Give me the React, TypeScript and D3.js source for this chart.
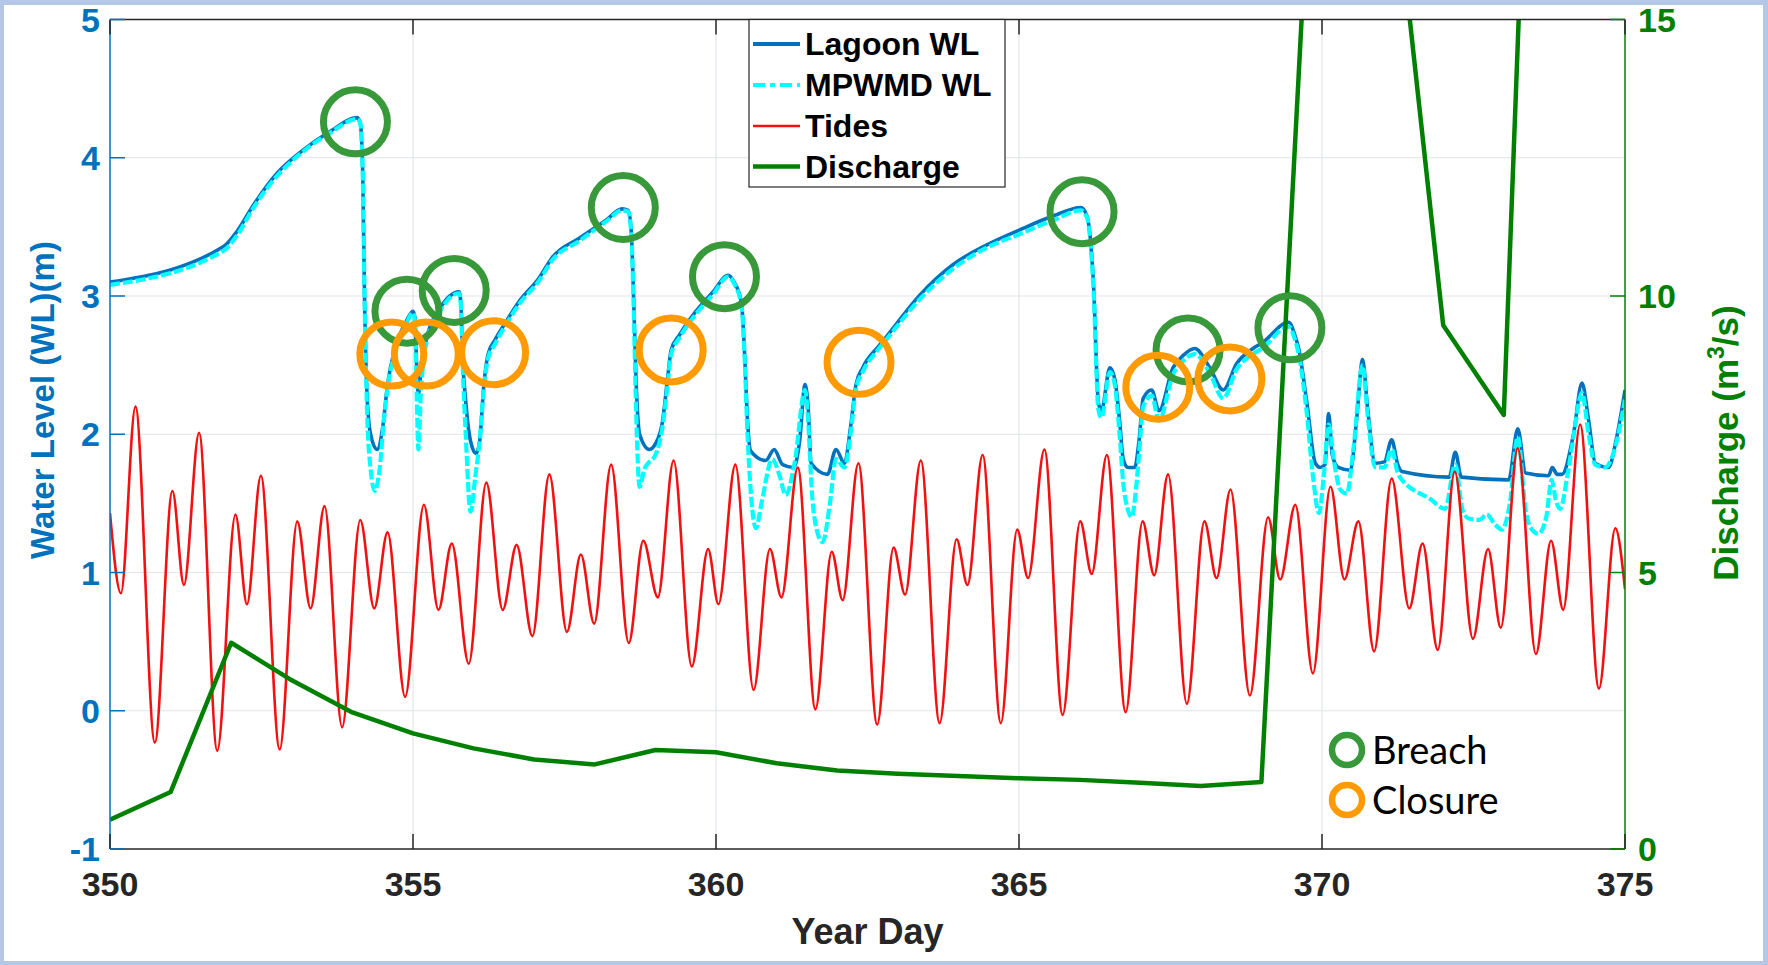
import React from 'react';
import * as d3 from 'd3';

// ---- figure geometry ----
const W = 1768;
const H = 965;
const PLOT = { left: 110, right: 1625, top: 19.5, bottom: 849 };

// ---- axis ticks ----
const dayTicks = [350, 355, 360, 365, 370, 375];
const levelTicks = [-1, 0, 1, 2, 3, 4, 5];
const flowTicks = [0, 5, 10, 15];

// ---- Lagoon water level (m) ----
const lagoonDays = [
  350.0, 351.88, 352.1, 352.37, 352.76, 353.2, 353.63, 354.08, 354.13, 354.17,
  354.2, 354.24, 354.3, 354.41, 354.5, 354.58, 354.71, 354.88, 355.0, 355.03,
  355.06, 355.09, 355.14, 355.24, 355.43, 355.76, 355.79, 355.82, 355.87, 355.95,
  356.04, 356.1, 356.17, 356.24, 356.35, 356.53, 356.75, 357.08, 357.3, 357.75,
  358.19, 358.45, 358.55, 358.6, 358.64, 358.68, 358.74, 358.9, 359.0, 359.12,
  359.2, 359.26, 359.4, 359.67, 359.95, 360.2, 360.3, 360.42, 360.47, 360.52,
  360.57, 360.82, 360.96, 361.1, 361.28, 361.38, 361.47, 361.52, 361.57, 361.84,
  361.98, 362.12, 362.22, 362.31, 362.42, 362.69, 362.82, 363.37, 363.92, 364.47,
  365.02, 365.57, 366.02, 366.12, 366.17, 366.23, 366.31, 366.36, 366.5, 366.58,
  366.66, 366.72, 366.8, 366.91, 366.98, 367.05, 367.19, 367.31, 367.54, 367.71,
  367.9, 368.15, 368.37, 368.59, 368.86, 369.01, 369.45, 369.55, 369.62, 369.75,
  369.89, 369.97, 370.05, 370.11, 370.17, 370.27, 370.47, 370.57, 370.67, 370.75,
  370.88, 371.03, 371.15, 371.25, 371.32, 372.1, 372.2, 372.3, 373.08, 373.23,
  373.36, 373.74, 373.8, 373.88, 373.96, 374.15, 374.29, 374.4, 374.51, 374.73,
  374.85, 375.0,
];
const lagoonLevels = [
  3.1, 3.36, 3.47, 3.66, 3.89, 4.06, 4.19, 4.29, 4.25, 3.9,
  3.0, 2.3, 2.0, 1.89, 2.05, 2.36, 2.63, 2.81, 2.89, 2.85,
  2.5, 2.29, 2.5, 2.72, 2.9, 3.03, 2.95, 2.55, 2.24, 1.95,
  1.86, 1.95, 2.36, 2.58, 2.68, 2.81, 2.96, 3.13, 3.28, 3.42,
  3.55, 3.63, 3.62, 3.48, 3.0, 2.4, 2.0, 1.89, 1.93, 2.1,
  2.4, 2.61, 2.72, 2.89, 3.03, 3.15, 3.1, 2.95, 2.6, 2.1,
  1.88, 1.81, 1.89, 1.78, 1.76, 1.95, 2.36, 2.2, 1.79, 1.71,
  1.89, 1.79, 2.05, 2.36, 2.48, 2.64, 2.71, 3.01, 3.23, 3.37,
  3.48, 3.58, 3.64, 3.58, 3.45, 3.08, 2.23, 2.17, 2.48, 2.4,
  2.1, 1.82, 1.76, 1.76, 1.95, 2.26, 2.32, 2.17, 2.48, 2.57,
  2.62, 2.48, 2.32, 2.51, 2.62, 2.66, 2.81, 2.72, 2.61, 2.23,
  1.79, 1.76, 1.78, 2.15, 1.85, 1.76, 1.74, 2.1, 2.54, 2.2,
  1.79, 1.8, 1.96, 1.78, 1.73, 1.69, 1.87, 1.69, 1.67, 2.04,
  1.72, 1.7, 1.76, 1.71, 1.71, 2.0, 2.37, 2.1, 1.79, 1.76,
  1.95, 2.32,
];

// ---- MPWMD water level (m) ----
const mpwmdDays = [
  350.0, 351.88, 352.1, 352.37, 352.76, 353.2, 353.63, 354.08, 354.13, 354.17,
  354.2, 354.24, 354.3, 354.37, 354.45, 354.52, 354.58, 354.71, 354.88, 355.0,
  355.03, 355.06, 355.09, 355.13, 355.24, 355.43, 355.76, 355.79, 355.82, 355.87,
  355.95, 356.03, 356.1, 356.17, 356.24, 356.35, 356.53, 356.75, 357.08, 357.3,
  357.75, 358.19, 358.45, 358.55, 358.6, 358.64, 358.68, 358.74, 358.82, 358.9,
  359.0, 359.12, 359.2, 359.26, 359.4, 359.67, 359.95, 360.2, 360.3, 360.42,
  360.47, 360.52, 360.58, 360.66, 360.75, 360.93, 361.05, 361.15, 361.3, 361.47,
  361.52, 361.58, 361.68, 361.76, 361.88, 361.98, 362.12, 362.22, 362.31, 362.42,
  362.69, 362.82, 363.37, 363.92, 364.47, 365.02, 365.57, 366.02, 366.12, 366.17,
  366.23, 366.31, 366.36, 366.5, 366.58, 366.66, 366.72, 366.8, 366.86, 366.93,
  366.98, 367.05, 367.19, 367.31, 367.54, 367.71, 367.9, 368.15, 368.37, 368.59,
  368.86, 369.01, 369.45, 369.55, 369.62, 369.75, 369.85, 369.95, 370.03, 370.11,
  370.2, 370.3, 370.41, 370.52, 370.67, 370.75, 370.88, 371.03, 371.15, 371.25,
  371.32, 371.5, 371.76, 372.03, 372.2, 372.32, 372.42, 372.6, 372.72, 372.85,
  372.97, 373.1, 373.23, 373.36, 373.45, 373.57, 373.7, 373.79, 373.86, 373.93,
  374.05, 374.15, 374.29, 374.4, 374.51, 374.67, 374.8, 375.0,
];
const mpwmdLevels = [
  3.08, 3.33, 3.44, 3.64, 3.87, 4.05, 4.18, 4.28, 4.25, 3.9,
  3.0, 2.2, 1.75, 1.59, 1.75, 2.1, 2.33, 2.6, 2.79, 2.88,
  2.82, 2.3, 1.89, 2.3, 2.7, 2.88, 3.02, 2.93, 2.5, 2.0,
  1.44, 1.7, 1.95, 2.33, 2.55, 2.65, 2.79, 2.94, 3.11, 3.26,
  3.4, 3.54, 3.62, 3.61, 3.46, 2.95, 2.2, 1.62, 1.75, 1.8,
  1.85, 2.06, 2.35, 2.58, 2.7, 2.87, 3.01, 3.14, 3.09, 2.93,
  2.58, 2.0, 1.55, 1.32, 1.5, 1.82, 1.7, 1.56, 1.8, 2.32,
  2.1, 1.6, 1.28, 1.22, 1.5, 1.82, 1.76, 2.0, 2.33, 2.45,
  2.62, 2.69, 2.98, 3.2, 3.35, 3.45, 3.55, 3.62, 3.57, 3.43,
  3.05, 2.18, 2.12, 2.45, 2.36, 2.0, 1.65, 1.45, 1.4, 1.6,
  1.85, 2.2, 2.28, 2.1, 2.43, 2.53, 2.58, 2.44, 2.26, 2.47,
  2.58, 2.62, 2.78, 2.69, 2.57, 2.15, 1.7, 1.43, 1.7, 2.07,
  1.8, 1.6, 1.57, 1.9, 2.5, 2.15, 1.76, 1.76, 1.89, 1.72,
  1.67, 1.6, 1.54, 1.46, 1.78, 1.45, 1.39, 1.38, 1.42, 1.35,
  1.31, 1.5, 1.98, 1.45, 1.32, 1.28, 1.4, 1.67, 1.52, 1.46,
  1.7, 1.98, 2.3, 2.0, 1.78, 1.76, 1.85, 2.25,
];

// ---- Tide highs and lows (m) ----
const tideDays = [
  350.0, 350.18, 350.42, 350.74, 351.03, 351.22, 351.47, 351.77, 352.07, 352.26,
  352.49, 352.8, 353.09, 353.31, 353.54, 353.83, 354.13, 354.36, 354.58, 354.87,
  355.18, 355.42, 355.64, 355.92, 356.21, 356.48, 356.71, 356.97, 357.25, 357.54,
  357.77, 357.99, 358.27, 358.56, 358.8, 359.04, 359.3, 359.6, 359.87, 360.04,
  360.32, 360.62, 360.89, 361.08, 361.35, 361.64, 361.91, 362.09, 362.35, 362.66,
  362.93, 363.12, 363.38, 363.69, 363.97, 364.15, 364.4, 364.7, 364.97, 365.15,
  365.42, 365.72, 366.01, 366.2, 366.45, 366.76, 367.04, 367.23, 367.46, 367.77,
  368.06, 368.26, 368.49, 368.81, 369.11, 369.31, 369.56, 369.85, 370.14, 370.37,
  370.6, 370.86, 371.15, 371.44, 371.66, 371.91, 372.19, 372.49, 372.74, 372.95,
  373.23, 373.53, 373.78, 373.98, 374.26, 374.57, 374.84, 375.0,
];
const tideLevels = [
  1.43, 0.85, 2.2, -0.23, 1.59, 0.91, 2.01, -0.29, 1.42, 0.77,
  1.7, -0.28, 1.37, 0.74, 1.48, -0.12, 1.38, 0.74, 1.29, 0.1,
  1.49, 0.73, 1.21, 0.34, 1.65, 0.73, 1.2, 0.54, 1.71, 0.57,
  1.13, 0.63, 1.78, 0.49, 1.23, 0.82, 1.81, 0.32, 1.17, 0.77,
  1.78, 0.15, 1.17, 0.82, 1.76, 0.01, 1.15, 0.8, 1.79, -0.1,
  1.18, 0.84, 1.81, -0.09, 1.24, 0.91, 1.85, -0.09, 1.31, 0.96,
  1.89, -0.03, 1.37, 0.99, 1.85, -0.01, 1.37, 0.98, 1.71, 0.05,
  1.37, 0.96, 1.6, 0.11, 1.4, 0.95, 1.49, 0.27, 1.62, 0.95,
  1.37, 0.43, 1.68, 0.74, 1.21, 0.44, 1.73, 0.52, 1.17, 0.6,
  1.9, 0.41, 1.23, 0.73, 2.07, 0.16, 1.32, 0.88,
];

// ---- Daily river discharge (m^3/s) ----
const dischargeDays = [
  350, 351, 352, 353, 354, 355, 356, 357, 358, 359, 360, 361, 362,
  363, 364, 365, 366, 367, 368, 369, 370, 371, 372, 373, 374, 375,
];
const dischargeRates = [
  0.53, 1.03, 3.73, 3.05, 2.47, 2.09, 1.82, 1.62, 1.53, 1.79, 1.75, 1.55, 1.42,
  1.36, 1.32, 1.28, 1.25, 1.2, 1.14, 1.21, 22.0, 19.5, 9.47, 7.85, 37.0, 30.0,
];

// ---- Inlet events ----
const breachDays = [354.05, 354.9, 355.68, 358.47, 360.14, 366.04, 367.79, 369.47];
const breachLevels = [4.26, 2.89, 3.04, 3.64, 3.14, 3.61, 2.61, 2.77];
const closureDays = [354.65, 355.22, 356.33, 359.26, 362.36, 367.29, 368.48];
const closureLevels = [2.58, 2.58, 2.59, 2.61, 2.52, 2.34, 2.4];

// ---- series legend ----
const legendLabels = ['Lagoon WL', 'MPWMD WL', 'Tides', 'Discharge'];

const COLORS = {
  lagoon: '#0072bd',
  mpwmd: '#00ffff',
  tide: '#f21010',
  flow: '#008000',
  breach: '#38993a',
  closure: '#ff9a00',
  axis: '#262626',
  grid: '#e1e4e9',
  frame: '#b4c7e7',
};

const FONT = '"Liberation Sans", Arial, Helvetica, sans-serif';

export default function App() {
  const x = d3.scaleLinear().domain([350, 375]).range([PLOT.left, PLOT.right]);
  const yL = d3.scaleLinear().domain([-1, 5]).range([PLOT.bottom, PLOT.top]);
  const yR = d3.scaleLinear().domain([0, 15]).range([PLOT.bottom, PLOT.top]);

  const smooth = (xs: number[], ys: number[], ys2: d3.ScaleLinear<number, number>) =>
    d3
      .line<number>()
      .x((_, i) => x(xs[i]))
      .y((v) => ys2(v))
      .curve(d3.curveMonotoneX)(ys) as string;

  const lagoonPath = smooth(lagoonDays, lagoonLevels, yL);
  const mpwmdPath = smooth(mpwmdDays, mpwmdLevels, yL);
  const tidePath = smooth(tideDays, tideLevels, yL);
  const flowPath = d3
    .line<number>()
    .x((_, i) => x(dischargeDays[i]))
    .y((v) => yR(v))(dischargeRates) as string;

  const tickLen = 15;
  const legendBox = { x0: 749, x1: 1005, y0: PLOT.top, y1: 187 };
  const legendRows = [55, 96, 137, 177.5];
  const legendStyles = [
    { stroke: COLORS.lagoon, width: 4, dash: undefined as string | undefined },
    { stroke: COLORS.mpwmd, width: 4, dash: '12,5,5,5' },
    { stroke: COLORS.tide, width: 2.6, dash: undefined },
    { stroke: COLORS.flow, width: 4.5, dash: undefined },
  ];

  return (
    <svg
      width={W}
      height={H}
      viewBox={`0 0 ${W} ${H}`}
      style={{ position: 'absolute', left: 0, top: 0, display: 'block' }}
      fontFamily={FONT}
    >
      <defs>
        <clipPath id="plot-clip">
          <rect
            x={PLOT.left}
            y={PLOT.top}
            width={PLOT.right - PLOT.left}
            height={PLOT.bottom - PLOT.top}
          />
        </clipPath>
      </defs>

      {/* frame */}
      <rect x={0} y={0} width={W} height={H} fill={COLORS.frame} />
      <rect x={4} y={5} width={W - 9} height={H - 9} fill="#ffffff" />

      {/* grid */}
      <g stroke={COLORS.grid} strokeWidth={1.2}>
        {dayTicks.slice(1, -1).map((d) => (
          <line key={`gx${d}`} x1={x(d)} x2={x(d)} y1={PLOT.top} y2={PLOT.bottom} />
        ))}
        {levelTicks.slice(1, -1).map((v) => (
          <line key={`gy${v}`} x1={PLOT.left} x2={PLOT.right} y1={yL(v)} y2={yL(v)} />
        ))}
      </g>

      {/* series */}
      <g clipPath="url(#plot-clip)" fill="none" strokeLinejoin="round">
        <path d={lagoonPath} stroke={COLORS.lagoon} strokeWidth={3.6} />
        <path
          d={mpwmdPath}
          stroke={COLORS.mpwmd}
          strokeWidth={4.2}
          strokeDasharray="10,3"
        />
        <path d={tidePath} stroke={COLORS.tide} strokeWidth={2.6} />
        <path d={flowPath} stroke={COLORS.flow} strokeWidth={4.5} />
      </g>

      {/* axes box */}
      <g strokeWidth={1.5} fill="none">
        <line x1={PLOT.left} x2={PLOT.right} y1={PLOT.top} y2={PLOT.top} stroke={COLORS.axis} />
        <line x1={PLOT.left} x2={PLOT.right} y1={PLOT.bottom} y2={PLOT.bottom} stroke={COLORS.axis} />
        <line x1={PLOT.left} x2={PLOT.left} y1={PLOT.top} y2={PLOT.bottom} stroke={COLORS.lagoon} />
        <line x1={PLOT.right} x2={PLOT.right} y1={PLOT.top} y2={PLOT.bottom} stroke={COLORS.flow} />
      </g>

      {/* x ticks */}
      <g stroke={COLORS.axis} strokeWidth={1.5}>
        {dayTicks.map((d) => (
          <g key={`tx${d}`}>
            <line x1={x(d)} x2={x(d)} y1={PLOT.bottom} y2={PLOT.bottom - tickLen} />
            <line x1={x(d)} x2={x(d)} y1={PLOT.top} y2={PLOT.top + tickLen} />
          </g>
        ))}
      </g>
      <g fontSize={34} fontWeight="bold" fill={COLORS.axis} textAnchor="middle">
        {dayTicks.map((d) => (
          <text key={`lx${d}`} x={x(d)} y={896}>
            {d}
          </text>
        ))}
      </g>
      <text
        x={(PLOT.left + PLOT.right) / 2}
        y={944}
        fontSize={36}
        fontWeight="bold"
        fill={COLORS.axis}
        textAnchor="middle"
      >
        Year Day
      </text>

      {/* left axis */}
      <g stroke={COLORS.lagoon} strokeWidth={1.5}>
        {levelTicks.map((v) => (
          <line key={`tl${v}`} x1={PLOT.left} x2={PLOT.left + tickLen} y1={yL(v)} y2={yL(v)} />
        ))}
      </g>
      <g fontSize={34} fontWeight="bold" fill={COLORS.lagoon} textAnchor="end">
        {levelTicks.map((v) => (
          <text key={`ll${v}`} x={100} y={yL(v) + 12}>
            {v}
          </text>
        ))}
      </g>
      <text
        transform={`translate(54, 400) rotate(-90)`}
        fontSize={33}
        fontWeight="bold"
        fill={COLORS.lagoon}
        textAnchor="middle"
      >
        Water Level (WL)(m)
      </text>

      {/* right axis */}
      <g stroke={COLORS.flow} strokeWidth={1.5}>
        {flowTicks.map((v) => (
          <line key={`tr${v}`} x1={PLOT.right} x2={PLOT.right - tickLen} y1={yR(v)} y2={yR(v)} />
        ))}
      </g>
      <g fontSize={34} fontWeight="bold" fill={COLORS.flow} textAnchor="start">
        {flowTicks.map((v) => (
          <text key={`lr${v}`} x={1638} y={yR(v) + 12}>
            {v}
          </text>
        ))}
      </g>
      <text
        transform={`translate(1738, 443) rotate(-90)`}
        fontSize={35}
        fontWeight="bold"
        fill={COLORS.flow}
        textAnchor="middle"
      >
        Discharge (m
        <tspan fontSize={23} dy={-14}>
          3
        </tspan>
        <tspan dy={14}>/s)</tspan>
      </text>

      {/* series legend */}
      <rect
        x={legendBox.x0}
        y={legendBox.y0}
        width={legendBox.x1 - legendBox.x0}
        height={legendBox.y1 - legendBox.y0}
        fill="#ffffff"
        stroke={COLORS.axis}
        strokeWidth={1.2}
      />
      {legendLabels.map((label, i) => (
        <g key={label}>
          <line
            x1={753}
            x2={800}
            y1={legendRows[i] - 11}
            y2={legendRows[i] - 11}
            stroke={legendStyles[i].stroke}
            strokeWidth={legendStyles[i].width}
            strokeDasharray={legendStyles[i].dash}
          />
          <text x={805} y={legendRows[i]} fontSize={32} fontWeight="bold" fill="#000000">
            {label}
          </text>
        </g>
      ))}

      {/* breach / closure markers */}
      <g fill="none" strokeWidth={7}>
        {breachDays.map((d, i) => (
          <circle key={`b${i}`} cx={x(d)} cy={yL(breachLevels[i])} r={32} stroke={COLORS.breach} />
        ))}
        {closureDays.map((d, i) => (
          <circle key={`c${i}`} cx={x(d)} cy={yL(closureLevels[i])} r={32} stroke={COLORS.closure} />
        ))}
      </g>

      {/* marker legend */}
      <g fontFamily='Lato, "Open Sans", sans-serif' fontSize={38} fill="#000000">
        <circle cx={1347} cy={750} r={15} fill="none" stroke={COLORS.breach} strokeWidth={6.5} />
        <text x={1372} y={764}>
          Breach
        </text>
        <circle cx={1347} cy={800} r={15} fill="none" stroke={COLORS.closure} strokeWidth={6.5} />
        <text x={1372} y={814}>
          Closure
        </text>
      </g>
    </svg>
  );
}
